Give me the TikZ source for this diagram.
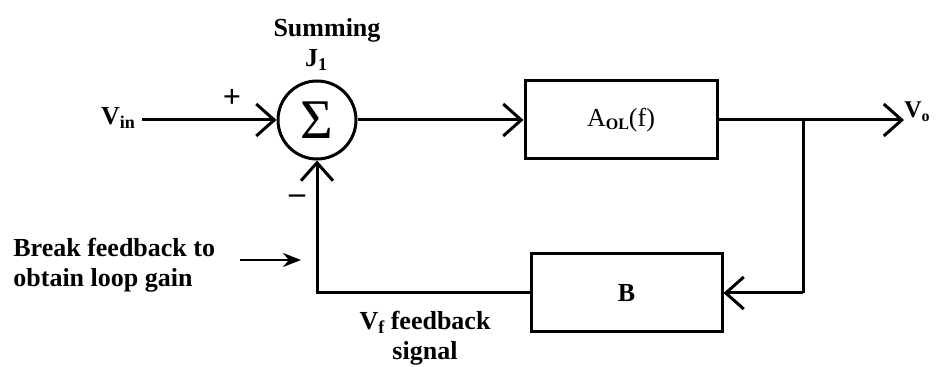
\documentclass[tikz,border=0pt]{standalone}
\usepackage{fontspec}
\setmainfont{Liberation Serif}[BoldFont={Liberation Serif Bold}]
\usepackage{tikz}
\usetikzlibrary{positioning,arrows.meta}

\tikzset{
  blk/.style={draw,line width=1.5pt,minimum width=96pt,minimum height=39pt,inner sep=0pt},
  sumnode/.style={draw,circle,line width=1.5pt,minimum size=39pt,inner sep=0pt},
  lbl/.style={font=\fontsize{13}{15}\selectfont\bfseries},
  sig/.style={line width=1.5pt,-{Straight Barb[length=9pt,width=16pt,line width=1.5pt]}},
  wire/.style={line width=1.5pt}
}

\begin{document}
\begin{tikzpicture}[x=0.5pt,y=-0.5pt]
  \useasboundingbox (0,0) rectangle (943,367);
  % ---------------- forward path ----------------
  \node[sumnode] (sum) at (317,120) {\fontsize{28}{28}\selectfont Σ};
  \node[lbl,anchor=east] (vin) at (142,118) {V\raisebox{-0.35ex}{\fontsize{9}{9}\selectfont in}};
  \node[lbl] (plus) at (232,98) {\fontsize{16}{16}\selectfont +};
  \node[lbl] (minus) at (297,199) {\fontsize{16}{16}\selectfont –};
  \node[lbl] (summ) at (327,30) {Summing};
  \node[lbl] (jay) at (316,60) {J\raisebox{-0.35ex}{\fontsize{9}{9}\selectfont 1}};
  \node[blk,minimum width=96pt] (aol) at (621,120) {\fontsize{13}{13}\selectfont A\raisebox{-0.3ex}{\fontsize{8}{8}\selectfont\bfseries OL}(f)};
  \node[anchor=west,inner sep=0pt,font=\fontsize{12}{12}\selectfont\bfseries] (vo) at (904,112) {V\raisebox{-0.35ex}{\fontsize{8}{8}\selectfont o}};
  \coordinate (tap) at (803,120);
  \draw[sig] (vin.east |- sum.west) -- (sum.west);
  \draw[sig] (sum.east) -- (aol.west);
  \draw[sig] (aol.east) -- (vo.west |- aol.east);
  % ---------------- feedback path ----------------
  \node[blk,minimum width=95.5pt] (fb) at (626.5,293) {\fontsize{13}{13}\selectfont\bfseries B};
  \draw[wire] (tap) -- (tap |- fb.east);
  \draw[sig] (tap |- fb.east) -- (fb.east);
  \draw[sig] (fb.west) -| (sum.south);
  \node[lbl,align=left,anchor=north west,inner sep=0pt] (brk) at (13,238) {Break feedback to\\obtain loop gain};
  \coordinate (brktip) at (301,260);
  \draw[line width=1pt,-{Stealth[length=9pt,width=7pt]}] (240,260) -- (brktip);
  \node[lbl,align=center] (vf) at (425,338) {V\raisebox{-0.35ex}{\fontsize{9}{9}\selectfont f} feedback\\signal};
\end{tikzpicture}
\end{document}
